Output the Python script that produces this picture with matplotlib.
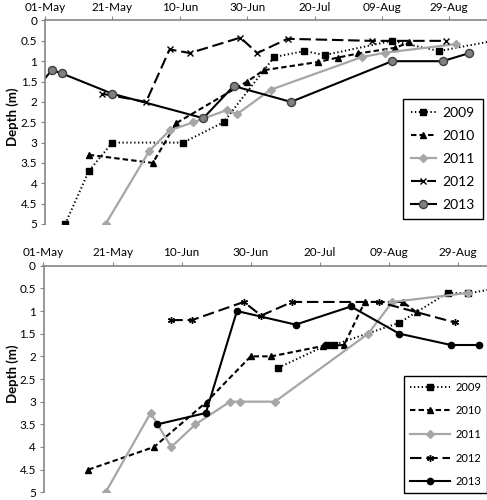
import numpy as np
import pandas as pd
import matplotlib
matplotlib.use('Agg')
import matplotlib.pyplot as plt
import matplotlib.dates as mdates
from matplotlib.ticker import FuncFormatter

plt.rcParams['font.family'] = ['Lato', 'DejaVu Sans']

# dates are season dates (month-day), depth in metres
years = ['2009', '2010', '2011', '2012', '2013']

# --- top panel ---
top_2009_dates = ['05-07', '05-14', '05-21', '06-11', '06-23', '07-08', '07-17', '07-23', '08-12', '08-26', '09-13']
top_2009_depth = [5.0, 3.7, 3.0, 3.0, 2.5, 0.9, 0.75, 0.85, 0.5, 0.75, 0.47]
top_2010_dates = ['05-14', '06-02', '06-09', '06-30', '07-05', '07-21', '07-27', '08-02', '08-13', '08-17']
top_2010_depth = [3.3, 3.5, 2.52, 1.5, 1.22, 1.02, 0.91, 0.81, 0.67, 0.54]
top_2011_dates = ['05-19', '06-01', '06-07', '06-14', '06-24', '06-27', '07-07', '08-03', '08-10', '08-31']
top_2011_depth = [5.0, 3.2, 2.7, 2.5, 2.2, 2.3, 1.7, 0.9, 0.79, 0.58]
top_2012_dates = ['05-18', '05-31', '06-07', '06-13', '06-28', '07-03', '07-12', '08-06', '08-28']
top_2012_depth = [1.8, 2.0, 0.71, 0.8, 0.42, 0.8, 0.45, 0.5, 0.5]
top_2013_dates = ['04-28', '05-03', '05-06', '05-21', '06-17', '06-26', '07-13', '08-12', '08-27', '09-04']
top_2013_depth = [1.72, 1.22, 1.3, 1.8, 2.4, 1.61, 2.0, 1.0, 1.0, 0.8]

# --- bottom panel ---
bot_2009_dates = ['07-08', '07-22', '07-24', '08-12', '08-26', '09-01', '09-13']
bot_2009_depth = [2.25, 1.75, 1.75, 1.26, 0.6, 0.61, 0.45]
bot_2010_dates = ['05-14', '06-02', '06-17', '06-30', '07-06', '07-21', '07-27', '08-02', '08-13', '08-17']
bot_2010_depth = [4.5, 4.0, 3.02, 2.0, 2.0, 1.77, 1.75, 0.8, 0.8, 1.03]
bot_2011_dates = ['05-19', '06-01', '06-07', '06-14', '06-24', '06-27', '07-07', '08-03', '08-10', '09-01']
bot_2011_depth = [5.0, 3.25, 4.0, 3.5, 3.0, 3.0, 3.0, 1.5, 0.8, 0.6]
bot_2012_dates = ['06-07', '06-13', '06-28', '07-03', '07-12', '08-06', '08-28']
bot_2012_depth = [1.2, 1.2, 0.8, 1.1, 0.8, 0.8, 1.25]
bot_2013_dates = ['06-03', '06-17', '06-26', '07-13', '07-29', '08-12', '08-27', '09-04']
bot_2013_depth = [3.5, 3.25, 1.0, 1.3, 0.9, 1.5, 1.75, 1.75]

tick_labels_every = 20  # days


def to_dates(mmdd):
    return pd.to_datetime(['2001-' + d for d in mmdd])


def styles(top):
    grey = '#a6a6a6'
    return {
        '2009': dict(color='black', ls=(0, (0.7, 1.3)), lw=1.4, marker='s',
                     ms=5 if top else 4, mfc='black', mec='black'),
        '2010': dict(color='black', ls=(0, (2.6, 1.5)), lw=1.5, marker='^',
                     ms=5 if top else 4.5, mfc='black', mec='black'),
        '2011': dict(color=grey, ls='-', lw=1.6, marker='D',
                     ms=4.5 if top else 4.2, mfc=grey, mec=grey),
        '2012': dict(color='black', ls=(0, (5.5, 2.3)), lw=1.5,
                     marker='x' if top else (6, 2, 0), ms=5, mew=1.0,
                     mec='black'),
        '2013': dict(color='black', ls='-', lw=1.5, marker='o',
                     ms=5.8 if top else 4.5,
                     mfc='#808080' if top else 'black',
                     mec='#404040' if top else 'black'),
    }


W, H = 487, 500
fig = plt.figure(figsize=(W / 100, H / 100), dpi=100)


def px_axes(left, top, right, bottom):
    return fig.add_axes([left / W, 1 - bottom / H, (right - left) / W, (bottom - top) / H])


def style_axis(ax, right_day):
    start = pd.Timestamp('2001-05-01')
    ax.set_xlim(start, start + pd.Timedelta(days=right_day))
    ax.set_ylim(5, 0)
    ax.xaxis.tick_top()
    ax.set_xticks(pd.date_range(start, periods=7, freq='%dD' % tick_labels_every))
    ax.xaxis.set_major_formatter(mdates.DateFormatter('%d-%b'))
    ax.set_yticks(np.arange(0, 5.01, 0.5))
    ax.yaxis.set_major_formatter(FuncFormatter(lambda v, p: '%g' % v))
    for s in ['right', 'bottom']:
        ax.spines[s].set_visible(False)
    for s in ['top', 'left']:
        ax.spines[s].set_color('#868686')
        ax.spines[s].set_linewidth(1.2)
    ax.tick_params(axis='both', direction='out', length=3, color='#868686',
                   labelsize=8.5, pad=2.5)
    ax.patch.set_alpha(0)


ax1 = px_axes(45, 20.5, 487, 224)
ax2 = px_axes(43.5, 265.7, 487, 492.3)
style_axis(ax1, 131.2)
style_axis(ax2, 128.4)

top_data = {
    '2009': (top_2009_dates, top_2009_depth),
    '2010': (top_2010_dates, top_2010_depth),
    '2011': (top_2011_dates, top_2011_depth),
    '2012': (top_2012_dates, top_2012_depth),
    '2013': (top_2013_dates, top_2013_depth),
}
bot_data = {
    '2009': (bot_2009_dates, bot_2009_depth),
    '2010': (bot_2010_dates, bot_2010_depth),
    '2011': (bot_2011_dates, bot_2011_depth),
    '2012': (bot_2012_dates, bot_2012_depth),
    '2013': (bot_2013_dates, bot_2013_depth),
}

for ax, data, top in [(ax1, top_data, True), (ax2, bot_data, False)]:
    st = styles(top)
    for yr in years:
        d, v = data[yr]
        ax.plot(to_dates(d), v, label=yr, **st[yr])

# legends
leg1 = ax1.legend(loc='upper left', bbox_to_anchor=(403 / W, 1 - 99 / H),
                  bbox_transform=fig.transFigure, fontsize=10, numpoints=1,
                  handlelength=1.8, labelspacing=0.8, borderpad=0.55,
                  handletextpad=0.5, fancybox=False, framealpha=1,
                  edgecolor='black', borderaxespad=0)
leg1.get_frame().set_linewidth(1.0)
leg2 = ax2.legend(loc='upper left', bbox_to_anchor=(404 / W, 1 - 376 / H),
                  bbox_transform=fig.transFigure, fontsize=8, numpoints=1,
                  handlelength=3.6, labelspacing=1.14, borderpad=0.5,
                  handletextpad=0.5, fancybox=False, framealpha=1,
                  edgecolor='black', borderaxespad=0)
leg2.get_frame().set_linewidth(1.0)

fig.text(13 / W, 1 - 117 / H, 'Depth (m)', rotation=90, ha='center', va='center',
         fontsize=9.5, fontweight='bold')
fig.text(13 / W, 1 - 374 / H, 'Depth (m)', rotation=90, ha='center', va='center',
         fontsize=9.5, fontweight='bold')

fig.savefig('out.png', dpi=100)
